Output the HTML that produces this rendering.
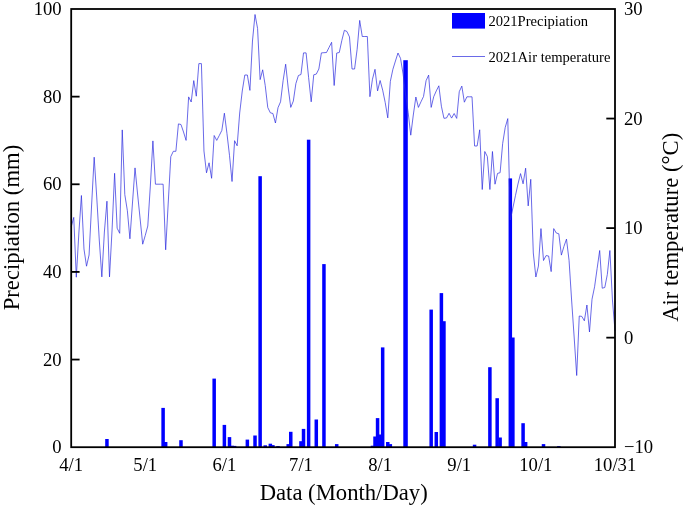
<!DOCTYPE html>
<html lang="en">
<head>
<meta charset="utf-8">
<title>2021 Precipitation and Air temperature</title>
<style>
html,body{margin:0;padding:0;background:#fff;}
body{width:685px;height:508px;overflow:hidden;}
svg{display:block;}
text{font-family:"Liberation Serif","Times New Roman",serif;fill:#000;}
</style>
</head>
<body>
<svg width="685" height="508" viewBox="0 0 685 508">
<rect x="0" y="0" width="685" height="508" fill="#ffffff"/>
<g fill="#0000ff" shape-rendering="auto">
<rect x="105.19" y="439.00" width="3.5" height="8.20"/>
<rect x="161.36" y="407.90" width="3.5" height="39.30"/>
<rect x="163.91" y="442.00" width="3.5" height="5.20"/>
<rect x="179.23" y="440.20" width="3.5" height="7.00"/>
<rect x="212.42" y="378.60" width="3.5" height="68.60"/>
<rect x="222.63" y="424.90" width="3.5" height="22.30"/>
<rect x="227.74" y="437.10" width="3.5" height="10.10"/>
<rect x="230.29" y="445.70" width="3.5" height="1.50"/>
<rect x="232.85" y="445.90" width="3.5" height="1.30"/>
<rect x="245.61" y="439.60" width="3.5" height="7.60"/>
<rect x="253.27" y="435.50" width="3.5" height="11.70"/>
<rect x="258.38" y="176.20" width="3.5" height="271.00"/>
<rect x="263.48" y="445.30" width="3.5" height="1.90"/>
<rect x="268.59" y="443.70" width="3.5" height="3.50"/>
<rect x="271.14" y="445.10" width="3.5" height="2.10"/>
<rect x="276.25" y="446.10" width="3.5" height="1.10"/>
<rect x="286.46" y="444.10" width="3.5" height="3.10"/>
<rect x="289.01" y="431.80" width="3.5" height="15.40"/>
<rect x="299.22" y="441.20" width="3.5" height="6.00"/>
<rect x="301.78" y="428.90" width="3.5" height="18.30"/>
<rect x="306.88" y="139.70" width="3.5" height="307.50"/>
<rect x="314.54" y="419.50" width="3.5" height="27.70"/>
<rect x="322.20" y="264.10" width="3.5" height="183.10"/>
<rect x="334.97" y="444.10" width="3.5" height="3.10"/>
<rect x="370.71" y="445.70" width="3.5" height="1.50"/>
<rect x="373.26" y="436.50" width="3.5" height="10.70"/>
<rect x="375.82" y="418.10" width="3.5" height="29.10"/>
<rect x="378.37" y="434.50" width="3.5" height="12.70"/>
<rect x="380.92" y="347.40" width="3.5" height="99.80"/>
<rect x="386.03" y="442.00" width="3.5" height="5.20"/>
<rect x="388.58" y="444.10" width="3.5" height="3.10"/>
<rect x="429.43" y="309.60" width="3.5" height="137.60"/>
<rect x="434.54" y="432.00" width="3.5" height="15.20"/>
<rect x="439.64" y="293.10" width="3.5" height="154.10"/>
<rect x="442.20" y="321.20" width="3.5" height="126.00"/>
<rect x="472.83" y="444.70" width="3.5" height="2.50"/>
<rect x="488.15" y="367.20" width="3.5" height="80.00"/>
<rect x="495.43" y="398.20" width="3.5" height="49.00"/>
<rect x="498.36" y="437.50" width="3.5" height="9.70"/>
<rect x="508.57" y="178.40" width="3.5" height="268.80"/>
<rect x="511.13" y="337.50" width="3.5" height="109.70"/>
<rect x="521.34" y="423.20" width="3.5" height="24.00"/>
<rect x="523.89" y="442.00" width="3.5" height="5.20"/>
<rect x="541.76" y="444.10" width="3.5" height="3.10"/>
<rect x="557.08" y="446.10" width="3.5" height="1.10"/>
<rect x="403.3" y="60.2" width="4.5" height="387.00"/>
</g>
<polyline fill="none" stroke="#2a2ade" stroke-width="0.7" stroke-linejoin="round" points="71.20,227.0 73.75,217.4 76.31,277.2 78.86,233.0 81.41,195.5 83.97,249.0 86.52,266.2 89.07,255.0 91.62,205.0 94.18,157.2 96.73,197.0 99.28,240.0 101.84,276.9 104.39,232.0 106.94,201.2 109.50,276.9 112.05,230.0 114.60,173.3 117.15,228.2 119.71,233.3 122.26,129.9 124.81,194.6 127.37,210.7 129.92,238.8 132.47,203.0 135.03,167.9 137.58,194.0 140.13,219.0 142.69,244.2 145.24,235.5 147.79,226.0 150.34,186.0 152.90,140.9 155.45,184.2 158.00,184.2 160.56,184.2 163.11,184.2 165.66,249.8 168.22,203.0 170.77,156.7 173.32,151.3 175.88,151.3 178.43,123.9 180.98,124.5 183.53,132.0 186.09,140.4 188.64,96.9 191.19,102.0 193.75,80.6 196.30,96.2 198.85,63.6 201.41,63.6 203.96,151.0 206.51,172.8 209.06,162.8 211.62,178.3 214.17,135.5 216.72,140.4 219.28,135.5 221.83,130.4 224.38,113.2 226.94,133.4 229.49,155.3 232.04,181.5 234.60,140.7 237.15,145.8 239.70,113.0 242.25,91.0 244.81,75.0 247.36,75.0 249.91,90.4 252.47,41.0 255.02,14.5 257.57,28.4 260.13,79.6 262.68,69.8 265.23,85.5 267.78,107.5 270.34,112.8 272.89,113.5 275.44,123.0 278.00,107.7 280.55,101.8 283.10,80.7 285.66,64.2 288.21,88.0 290.76,107.4 293.32,101.1 295.87,83.6 298.42,75.5 300.97,74.5 303.53,52.9 306.08,52.9 308.63,77.7 311.19,101.8 313.74,74.8 316.29,74.1 318.85,69.0 321.40,52.9 323.95,52.7 326.51,52.5 329.06,47.4 331.61,42.3 334.16,85.5 336.72,53.0 339.27,52.5 341.82,40.5 344.38,30.3 346.93,31.5 349.48,36.9 352.04,69.0 354.59,69.0 357.14,49.3 359.69,20.4 362.25,36.5 364.80,36.5 367.35,36.5 369.91,96.7 372.46,79.2 375.01,69.3 377.57,90.9 380.12,80.5 382.67,90.1 385.23,102.6 387.78,117.9 390.33,81.4 392.88,69.3 395.44,61.0 397.99,53.0 400.54,58.4 403.10,74.0 405.65,95.0 408.20,112.8 410.76,135.2 413.31,115.0 415.86,97.0 418.42,107.4 420.97,101.8 423.52,96.5 426.07,80.7 428.63,75.1 431.18,107.4 433.73,96.7 436.29,90.9 438.84,85.8 441.39,106.2 443.95,118.3 446.50,118.0 449.05,113.3 451.60,118.1 454.16,113.5 456.71,118.4 459.26,91.7 461.82,86.1 464.37,102.2 466.92,96.8 469.48,96.8 472.03,96.8 474.58,146.0 477.14,146.0 479.69,129.8 482.24,189.5 484.79,151.5 487.35,156.6 489.90,189.5 492.45,151.5 495.01,184.2 497.56,173.4 500.11,172.7 502.67,143.5 505.22,127.4 507.77,118.6 510.32,220.0 512.88,208.0 515.43,195.7 517.98,184.0 520.54,173.6 523.09,183.8 525.64,168.2 528.20,205.9 530.75,179.3 533.30,253.0 535.86,277.0 538.41,266.1 540.96,228.6 543.51,260.5 546.07,255.6 548.62,256.0 551.17,271.6 553.73,228.6 556.28,233.0 558.83,233.8 561.39,255.1 563.94,246.4 566.49,239.1 569.05,260.3 571.60,300.0 574.15,337.0 576.70,375.5 579.26,316.0 581.81,316.4 584.36,320.8 586.92,305.0 589.47,332.0 592.02,299.2 594.58,286.8 597.13,268.5 599.68,250.5 602.23,288.2 604.79,287.5 607.34,274.4 609.89,250.5 612.45,300.0 615.00,331.0"/>
<rect x="71.2" y="9.0" width="543.80" height="438.20" fill="none" stroke="#000" stroke-width="1.8"/>
<g stroke="#000" stroke-width="1.8">
<line x1="71.2" y1="96.64" x2="79.6" y2="96.64"/>
<line x1="71.2" y1="184.28" x2="79.6" y2="184.28"/>
<line x1="71.2" y1="271.92" x2="79.6" y2="271.92"/>
<line x1="71.2" y1="359.56" x2="79.6" y2="359.56"/>
<line x1="606.3" y1="118.55" x2="615.0" y2="118.55"/>
<line x1="606.3" y1="228.10" x2="615.0" y2="228.10"/>
<line x1="606.3" y1="337.65" x2="615.0" y2="337.65"/>
</g>
<g font-size="18.67px">
<text x="61.7" y="15.10" text-anchor="end">100</text>
<text x="61.7" y="102.74" text-anchor="end">80</text>
<text x="61.7" y="190.38" text-anchor="end">60</text>
<text x="61.7" y="278.02" text-anchor="end">40</text>
<text x="61.7" y="365.66" text-anchor="end">20</text>
<text x="61.7" y="453.30" text-anchor="end">0</text>
<text x="624" y="15.00">30</text>
<text x="624" y="124.55">20</text>
<text x="624" y="234.10">10</text>
<text x="624" y="343.65">0</text>
<text x="624" y="453.20">−10</text>
<text x="71.20" y="470.7" text-anchor="middle">4/1</text>
<text x="145.24" y="470.7" text-anchor="middle">5/1</text>
<text x="224.38" y="470.7" text-anchor="middle">6/1</text>
<text x="300.97" y="470.7" text-anchor="middle">7/1</text>
<text x="380.12" y="470.7" text-anchor="middle">8/1</text>
<text x="459.26" y="470.7" text-anchor="middle">9/1</text>
<text x="535.86" y="470.7" text-anchor="middle">10/1</text>
<text x="615.00" y="470.7" text-anchor="middle">10/31</text>
</g>
<text x="343.7" y="499.9" font-size="22.67px" text-anchor="middle">Data (Month/Day)</text>
<text transform="translate(19.4,310.3) rotate(-90)" font-size="22.67px">Precipiation (mm)</text>
<text transform="translate(677.9,321.8) rotate(-90)" font-size="22.67px">Air temperature (°C)</text>
<rect x="452" y="13" width="33" height="15.6" fill="#0000ff"/>
<line x1="452" y1="56.5" x2="485" y2="56.5" stroke="#2a2ade" stroke-width="0.7"/>
<text x="488.4" y="25.8" font-size="14.6px">2021Precipiation</text>
<text x="488.4" y="61.5" font-size="14.6px">2021Air temperature</text>
</svg>
</body>
</html>
